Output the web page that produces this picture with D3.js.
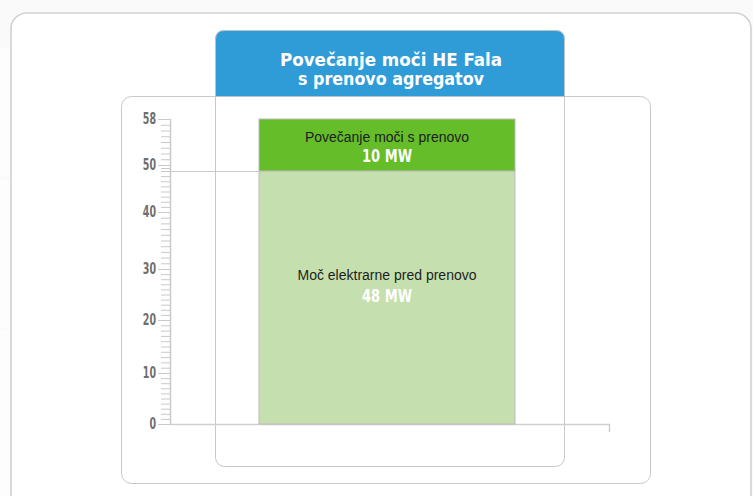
<!DOCTYPE html>
<html lang="sl">
<head>
<meta charset="UTF-8">
<title>Povečanje moči HE Fala</title>
<script src="https://d3js.org/d3.v7.min.js"></script>
<style>
  body { margin: 0; background: #fff; }
  svg { display: block; }
  .cond { font-family: "DejaVu Sans Condensed", "Liberation Sans Narrow", sans-serif; font-stretch: condensed; font-weight: bold; }
  .reg { font-family: "Liberation Sans", Arial, sans-serif; }
</style>
</head>
<body>
<svg width="753" height="496"></svg>
<script>
// data
const titleLines = ["Povečanje moči HE Fala", "s prenovo agregatov"];
const segments = ["Moč elektrarne pred prenovo", "Povečanje moči s prenovo"];
const segValues = [48, 10];
const segLabels = ["48 MW", "10 MW"];
const tickLabels = [0, 10, 20, 30, 40, 50, 58];

const svg = d3.select("svg");

// faint page background behind the card
svg.append("rect").attr("x", 0).attr("y", 0).attr("width", 753).attr("height", 496).attr("fill", "#fafafa");
[[0, 48, 10, 128], [0, 180, 10, 148], [0, 330, 10, 170]].forEach(r => {
  svg.append("rect").attr("x", r[0]).attr("y", r[1]).attr("width", r[2]).attr("height", r[3]).attr("fill", "#fdfdfd");
});

// card
svg.append("rect").attr("x", 11).attr("y", 13).attr("width", 740).attr("height", 520)
  .attr("rx", 16).attr("fill", "#fff").attr("stroke", "#d0d2d4").attr("stroke-width", 1.6);

// inner box
svg.append("rect").attr("x", 121.5).attr("y", 96.5).attr("width", 529).attr("height", 387)
  .attr("rx", 10).attr("fill", "none").attr("stroke", "#c8c8c8");

// blue header box outline
svg.append("rect").attr("x", 215.5).attr("y", 30.5).attr("width", 349).attr("height", 436)
  .attr("rx", 9).attr("fill", "none").attr("stroke", "#c8c8c8");
svg.append("path")
  .attr("d", "M215.5,96.5 V39.5 Q215.5,30.5 224.5,30.5 H555.5 Q564.5,30.5 564.5,39.5 V96.5 Z")
  .attr("fill", "#2f9cd7").attr("stroke", "#b8c4cc");

const titleWidths = [222, 186];
titleLines.forEach((t, i) => {
  svg.append("text").attr("class", "cond").attr("x", 391).attr("y", 66 + i * 19)
    .attr("text-anchor", "middle").attr("fill", "#fff").attr("font-size", 17)
    .attr("textLength", titleWidths[i]).attr("lengthAdjust", "spacingAndGlyphs").text(t);
});

// scales
const y = d3.scaleLinear()
  .domain([0, 10, 20, 30, 40, 48, 50, 58])
  .range([424, 373, 320, 269, 212, 171, 165, 119]);
const x = d3.scaleBand().domain(["bar"]).range([259, 515]).padding(0);

const axisX = 170;
const minor = d3.range(0, 59);

const gMinor = svg.append("g").attr("transform", `translate(${axisX},0)`)
  .call(d3.axisLeft(y).tickValues(minor).tickSize(9).tickFormat(""));
const gMajor = svg.append("g").attr("transform", `translate(${axisX},0)`)
  .call(d3.axisLeft(y).tickValues(tickLabels).tickSize(12).tickPadding(2));
[gMinor, gMajor].forEach(g => {
  g.select(".domain").remove();
  g.selectAll(".tick line").attr("stroke", "#c9c9c9");
});
gMajor.selectAll(".tick text").attr("class", "cond").attr("fill", "#6e6e6e").attr("font-size", 15)
  .attr("textLength", d => String(d).length * 6.6).attr("lengthAdjust", "spacingAndGlyphs");
svg.append("line").attr("x1", axisX + 0.5).attr("x2", axisX + 0.5).attr("y1", y(58)).attr("y2", y(0))
  .attr("stroke", "#c9c9c9").attr("stroke-width", 1.5);

// baseline
svg.append("path").attr("d", `M${axisX},${y(0) + 0.5} H609.5 V432`)
  .attr("fill", "none").attr("stroke", "#cfcfcf").attr("stroke-width", 1.5);

// stacked segments
const stackData = segValues.map((v, i) => ({
  name: segments[i], label: segLabels[i],
  y0: d3.sum(segValues.slice(0, i)), y1: d3.sum(segValues.slice(0, i + 1))
}));
const colors = ["#c5e0ae", "#64bd29"];

svg.selectAll("rect.seg").data(stackData).join("rect").attr("class", "seg")
  .attr("x", x("bar")).attr("width", x.bandwidth())
  .attr("y", d => y(d.y1)).attr("height", d => y(d.y0) - y(d.y1))
  .attr("fill", (d, i) => colors[i]).attr("stroke", "#bdbdbd").attr("stroke-width", 1);

// guide line at top of first segment
svg.append("line").attr("x1", axisX).attr("x2", x("bar"))
  .attr("y1", y(segValues[0]) + 0.5).attr("y2", y(segValues[0]) + 0.5)
  .attr("stroke", "#c9c9c9").attr("stroke-width", 1.2);

const cx = x("bar") + x.bandwidth() / 2;
const nameY = [280, 142];
const valY = [302, 162];
stackData.forEach((d, i) => {
  svg.append("text").attr("class", "reg").attr("x", cx).attr("y", nameY[i])
    .attr("text-anchor", "middle").attr("font-size", 14).attr("fill", "#1e1e1e").text(d.name);
  svg.append("text").attr("class", "cond").attr("x", cx).attr("y", valY[i])
    .attr("text-anchor", "middle").attr("font-size", 18).attr("fill", "#fff")
    .attr("textLength", 50).attr("lengthAdjust", "spacingAndGlyphs").text(d.label);
});
</script>
</body>
</html>
